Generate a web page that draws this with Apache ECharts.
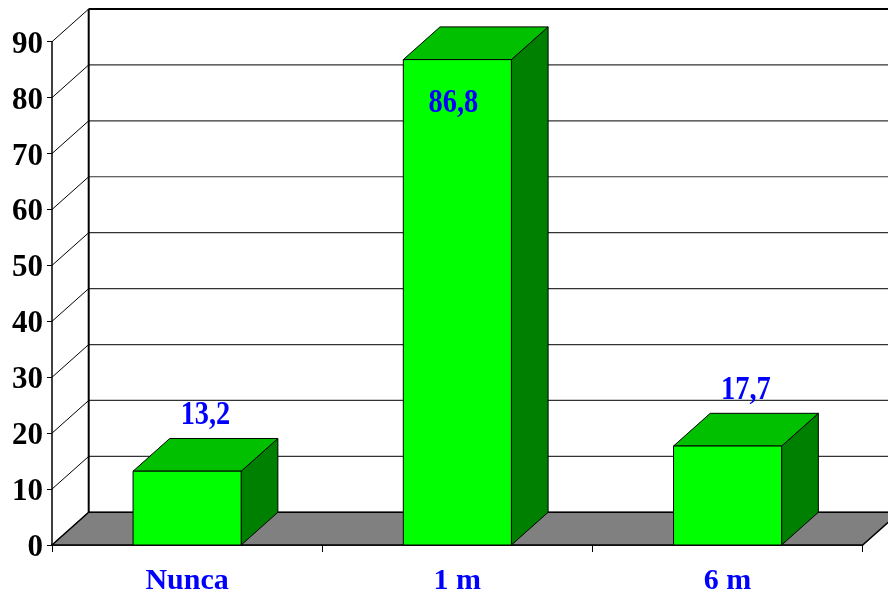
<!DOCTYPE html>
<html>
<head>
<meta charset="utf-8">
<script src="https://cdn.jsdelivr.net/npm/echarts@6/dist/echarts.min.js"></script>
<style>
  html, body { margin: 0; padding: 0; background: #fff; }
  #chart { width: 888px; height: 596px; }
</style>
</head>
<body>
<div id="chart"></div>
<script>
// Categories and values
const categories = ['Nunca', '1 m', '6 m'];
const values = [13.2, 86.8, 17.7];
// Value axis ticks
const yTicks = [0, 10, 20, 30, 40, 50, 60, 70, 80, 90];

// Depth of the 3D box (pixel offset to the back plane)
const DX = 36.7;
const DY = 32.7;
const FONT = '"Liberation Serif", "Times New Roman", serif';

const fmt = v => String(v).replace('.', ',');

const chart = echarts.init(document.getElementById('chart'), null, { renderer: 'canvas' });

function renderWalls(params, api) {
  const cs = params.coordSys;
  const v = api.value(1);
  const y = api.coord([0, v])[1];
  const xl = cs.x, xr = cs.x + cs.width;
  const isTop = v === yTicks[yTicks.length - 1];
  return {
    type: 'group',
    children: [
      { type: 'line', shape: { x1: xl, y1: y, x2: xl + DX, y2: y - DY },
        style: { stroke: '#000', lineWidth: 1 } },
      { type: 'line', shape: { x1: xl + DX, y1: y - DY, x2: xr + DX, y2: y - DY },
        style: { stroke: isTop ? '#000' : '#333', lineWidth: isTop ? 2 : 1.2 } }
    ]
  };
}

function renderFloor(params, api) {
  const cs = params.coordSys;
  const xl = cs.x, xr = cs.x + cs.width;
  const yb = cs.y + cs.height, yt = cs.y;
  return {
    type: 'group',
    children: [
      { type: 'polygon',
        shape: { points: [[xl, yb], [xr, yb], [xr + DX, yb - DY], [xl + DX, yb - DY]] },
        style: { fill: '#808080', stroke: '#000', lineWidth: 1.5 } },
      { type: 'line', shape: { x1: xl + DX, y1: yt - DY, x2: xl + DX, y2: yb - DY },
        style: { stroke: '#000', lineWidth: 2 } }
    ]
  };
}

function renderBar(params, api) {
  const cs = params.coordSys;
  const idx = api.value(0);
  const v = api.value(1);
  const base = api.coord([idx, 0]);
  const top = api.coord([idx, v]);
  const w = api.size([1, 0])[0] * 0.4;
  const x0 = base[0] - w / 2, x1 = base[0] + w / 2;
  const yb = base[1], yt = top[1];
  const edge = { stroke: '#000', lineWidth: 1 };

  // value label above the box, or inside the front face when there is no room
  let lx = base[0] + DX / 2, ly = yt - DY - 23;
  if (ly - 15 < cs.y) { lx = base[0] - 4; ly = yt + 44; }

  return {
    type: 'group',
    children: [
      { type: 'polygon',
        shape: { points: [[x1, yt], [x1 + DX, yt - DY], [x1 + DX, yb - DY], [x1, yb]] },
        style: Object.assign({ fill: '#008000' }, edge) },
      { type: 'polygon',
        shape: { points: [[x0, yt], [x1, yt], [x1 + DX, yt - DY], [x0 + DX, yt - DY]] },
        style: Object.assign({ fill: '#00C000' }, edge) },
      { type: 'rect',
        shape: { x: x0, y: yt, width: w, height: yb - yt },
        style: Object.assign({ fill: '#00FF00' }, edge) },
      { type: 'text', x: lx, y: ly, scaleX: 0.86,
        style: { text: fmt(v), x: 0, y: 0, align: 'center', verticalAlign: 'middle',
                 fill: '#0000FF', fontSize: 33, fontWeight: 'bold', fontFamily: FONT } }
    ]
  };
}

chart.setOption({
  animation: false,
  backgroundColor: '#fff',
  grid: { left: 52, right: 25.3, top: 41.7, bottom: 51, containLabel: false },
  xAxis: {
    type: 'category',
    data: categories,
    boundaryGap: true,
    axisLine: { show: true, lineStyle: { color: '#000', width: 1.5 } },
    axisTick: { show: true, length: 7, lineStyle: { color: '#000', width: 1 } },
    axisLabel: { color: '#0000FF', fontSize: 30, fontWeight: 'bold', fontFamily: FONT, margin: 21 },
    splitLine: { show: false }
  },
  yAxis: {
    type: 'value',
    min: 0, max: 90, interval: 10,
    axisLine: { show: true, lineStyle: { color: '#000', width: 1.5 } },
    axisTick: { show: true, length: 5, lineStyle: { color: '#000', width: 1 } },
    axisLabel: { color: '#000', fontSize: 31, fontWeight: 'bold', fontFamily: FONT, margin: 9,
                 verticalAlign: 'top', lineHeight: 6 },
    splitLine: { show: false }
  },
  series: [
    { type: 'custom', name: 'walls', z: 1, renderItem: renderWalls,
      data: yTicks.map(v => [0, v]), encode: { x: 0, y: 1 }, silent: true },
    { type: 'custom', name: 'floor', z: 2, renderItem: renderFloor,
      data: [[0, 0]], encode: { x: 0, y: 1 }, silent: true },
    { type: 'custom', name: 'bars', z: 3, renderItem: renderBar,
      data: values.map((v, i) => [i, v]), encode: { x: 0, y: 1 } }
  ]
});
</script>
</body>
</html>
